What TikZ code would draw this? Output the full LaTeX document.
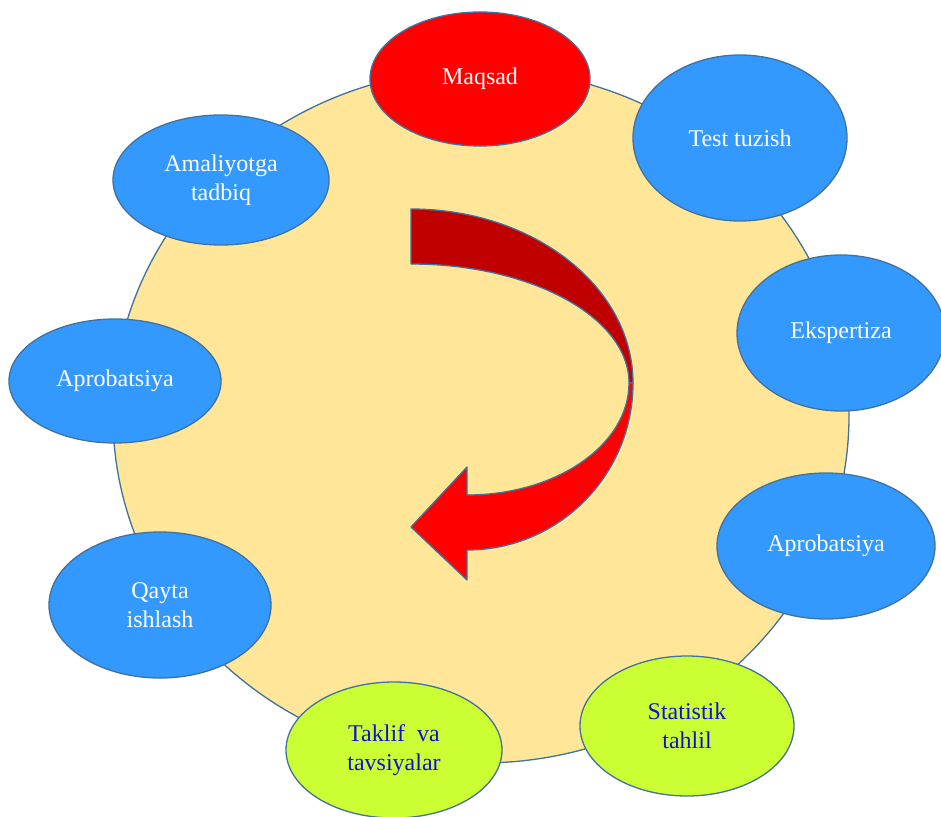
\documentclass[tikz,border=0pt]{standalone}
\usepackage{fontspec}
\setmainfont{Liberation Serif}
\usetikzlibrary{shapes.geometric}
\definecolor{ringfill}{RGB}{255,230,153}
\definecolor{edgeblue}{RGB}{65,113,156}
\definecolor{ellblue}{RGB}{51,153,255}
\definecolor{ellred}{RGB}{255,0,0}
\definecolor{ellgreen}{RGB}{204,255,51}
\definecolor{darkred}{RGB}{192,0,0}
\definecolor{txtblue}{RGB}{16,16,220}
\tikzset{
  base/.style={ellipse, draw=edgeblue, line width=1.3pt, inner sep=0pt, align=center,
    font=\fontsize{24}{29}\selectfont},
  blueell/.style={base, fill=ellblue, text=white},
  redell/.style={base, fill=ellred, text=white},
  greenell/.style={base, fill=ellgreen, text=txtblue},
  arrowpart/.style={draw=edgeblue, line width=1.3pt, line join=round}
}
\begin{document}
\begin{tikzpicture}[x=1pt,y=-1pt]
\useasboundingbox (0,0) rectangle (941,816);
\clip (0,0) rectangle (941,816);
\node[ellipse, draw=edgeblue, line width=1.3pt, fill=ringfill, minimum width=736pt, minimum height=694pt, inner sep=0pt] (ring) at (481,416) {};
% curved arrow
\draw[arrowpart, fill=darkred] (411,209) .. controls (533.6,209) and (633,286.9) .. (633,383)
  -- (629,383) .. controls (629,317.3) and (531.4,264) .. (411,264) -- cycle;
\draw[arrowpart, fill=ellred] (633,383) .. controls (633,475.2) and (558.7,550) .. (467,550)
  -- (467,580) -- (411,527) -- (467,467) -- (467,495)
  .. controls (556.5,495) and (629,444.9) .. (629,383) -- cycle;
% ellipses
\node[redell, minimum width=220pt, minimum height=134pt] (maqsad) at (480,79) {Maqsad};
\node[blueell, minimum width=214pt, minimum height=166pt] (test) at (740,138) {Test tuzish};
\node[blueell, minimum width=208pt, minimum height=156pt] (ekspert) at (841,333) {Ekspertiza};
\node[blueell, minimum width=218pt, minimum height=146pt] (aprobR) at (826,546) {Aprobatsiya};
\node[greenell, minimum width=214pt, minimum height=140pt] (stat) at (687,726) {Statistik\\tahlil};
\node[greenell, minimum width=216pt, minimum height=136pt] (taklif) at (394,750) {Taklif~ va\\tavsiyalar};
\node[blueell, minimum width=222pt, minimum height=146pt] (qayta) at (160,605) {Qayta\\ishlash};
\node[blueell, minimum width=212pt, minimum height=124pt] (aprobL) at (115,381) {Aprobatsiya};
\node[blueell, minimum width=216pt, minimum height=130pt] (amal) at (221,180) {Amaliyotga\\tadbiq};
\end{tikzpicture}
\end{document}
